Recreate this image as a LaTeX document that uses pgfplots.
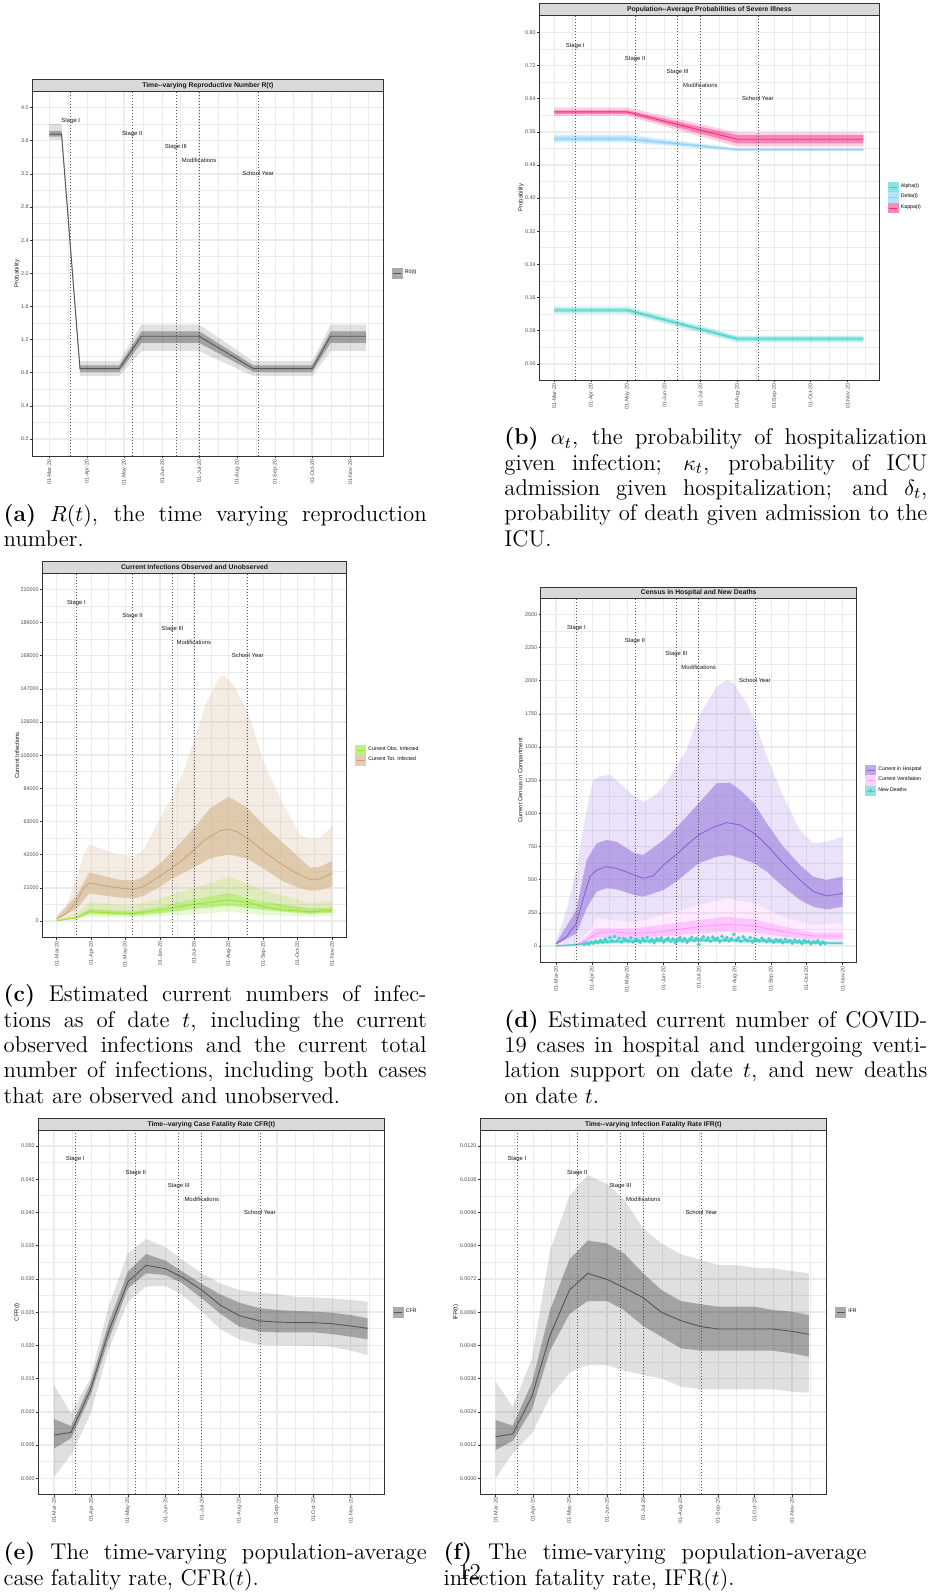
\documentclass[border=0pt]{standalone}
\usepackage{fontspec}
\usepackage{pgfplots}
\usepackage{pgfplotstable}
\usepgfplotslibrary{fillbetween}
\pgfplotsset{compat=1.18}
\newfontfamily\ggf{Liberation Sans}

\definecolor{gridc}{HTML}{EBEBEB}
\definecolor{frame}{HTML}{333333}
\definecolor{stripc}{HTML}{D9D9D9}
\definecolor{tickc}{HTML}{4D4D4D}
\definecolor{vlc}{HTML}{555555}
\definecolor{rline}{HTML}{555555}
\definecolor{alphac}{HTML}{40D0C8}
\definecolor{deltac}{HTML}{87CEFA}
\definecolor{kappac}{HTML}{F52A80}
\definecolor{obsc}{HTML}{96E33A}
\definecolor{totc}{HTML}{D2B48C}
\definecolor{totl}{HTML}{C8A47A}
\definecolor{hospc}{HTML}{9370DB}
\definecolor{hospl}{HTML}{8A63D2}
\definecolor{ventc}{HTML}{FF99FF}
\definecolor{deathc}{HTML}{48D1CC}

\newcommand\tk{\ggf\fontsize{2.7}{3}\selectfont}

\tikzset{
  vl/.style={draw=vlc, line width=0.3pt, dash pattern=on 0.6pt off 0.9pt},
  stl/.style={font=\ggf\fontsize{2.95}{3.2}\selectfont, text=black!90, inner sep=0pt},
}

\pgfplotsset{
  gg/.style={
    scale only axis,
    anchor=north west,
    axis line style={draw=frame, line width=0.4pt},
    tick align=outside,
    tick pos=left,
    major tick length=1.1pt,
    minor tick length=0pt,
    every tick/.append style={frame, line width=0.3pt},
    grid=both,
    major grid style={draw=gridc, line width=0.7pt},
    minor grid style={draw=gridc, line width=0.35pt},
    scaled y ticks=false,
    xtick={0,31,61,92,122,153,184,214,245},
    xticklabels={01-Mar-20,01-Apr-20,01-May-20,01-Jun-20,01-Jul-20,01-Aug-20,01-Sep-20,01-Oct-20,01-Nov-20},
    minor xtick={15.5,46,76.5,107,137.5,168.5,199,229.5,260},
    xticklabel style={rotate=90, anchor=east, font=\tk, text=tickc, inner sep=0.5pt},
    yticklabel style={font=\tk, text=tickc, inner sep=0.5pt},
    ylabel style={font=\ggf\fontsize{2.95}{3.3}\selectfont, text=black!90, inner sep=0pt},
    legend style={at={(1,0.5)}, anchor=west, xshift=4.3pt, draw=none, fill=none,
      inner sep=0pt, outer sep=0pt, font=\ggf\fontsize{2.6}{3}\selectfont,
      nodes={inner sep=0pt}, row sep=0pt, column sep=1.3pt},
    legend cell align=left,
  },
}

% key of a ribbon with its line
\newcommand\gkey[2]{\addlegendimage{legend image code/.code={%
  \fill[#1] (0pt,-2.4pt) rectangle (4.8pt,2.4pt);
  \draw[#2, line width=0.35pt] (0.4pt,0pt) -- (4.4pt,0pt);}}}

% dashed dates (#1 = bottom, #2 = top of panel) and their labels
\newcommand\stages[7]{%
  \addplot[vl, forget plot] coordinates {(17.5,#1)(17.5,#2)};
  \addplot[vl, forget plot] coordinates {(67.5,#1)(67.5,#2)};
  \addplot[vl, forget plot] coordinates {(103,#1)(103,#2)};
  \addplot[vl, forget plot] coordinates {(122,#1)(122,#2)};
  \addplot[vl, forget plot] coordinates {(170,#1)(170,#2)};
  \node[stl] at (axis cs:17.5,#3) {Stage I};
  \node[stl] at (axis cs:67.5,#4) {Stage II};
  \node[stl] at (axis cs:103,#5) {Stage III};
  \node[stl] at (axis cs:122,#6) {Modifications};
  \node[stl] at (axis cs:170,#7) {School Year};
}

\newcommand\strip[2]{%
  \draw[fill=stripc, draw=frame, line width=0.4pt] (#1.north west) rectangle ([yshift=5.65pt]#1.north east);
  \node[font=\ggf\bfseries\fontsize{3.4}{4}\selectfont, text=black!90, inner sep=0pt]
    at ([yshift=2.825pt]#1.north) {#2};}

\newlength\capw
\setlength\capw{211.5pt}
\newcommand\jl[1]{\makebox[\capw][s]{#1}}
\newcommand\cl[3]{\node[anchor=base west, inner sep=0pt, font=\fontsize{11.4}{12.6}\selectfont] at (#1pt,-#2pt) {#3};}

% d = day since 01-Mar-20, m = median, il/ih = inner band, ol/oh = outer band
\pgfplotstableread{
d m il ih ol oh
0 3.68 3.65 3.72 3.61 3.80
10 3.68 3.65 3.72 3.61 3.80
25 0.85 0.81 0.89 0.76 0.94
57 0.85 0.81 0.89 0.76 0.94
75 1.24 1.16 1.30 1.06 1.38
122 1.24 1.16 1.30 1.06 1.38
166 0.85 0.81 0.89 0.76 0.94
214 0.85 0.81 0.89 0.76 0.94
229 1.24 1.16 1.30 1.06 1.38
258 1.24 1.16 1.30 1.06 1.38
}\Rt

\pgfplotstableread{
d m il ih ol oh
0 0.608 0.603 0.612 0.598 0.619
61 0.608 0.603 0.612 0.598 0.619
153 0.542 0.532 0.552 0.524 0.558
258 0.542 0.532 0.552 0.524 0.558
}\Ka
\pgfplotstableread{
d m il ih ol oh
0 0.543 0.538 0.549 0.534 0.554
61 0.543 0.538 0.549 0.534 0.554
153 0.517 0.515 0.519 0.513 0.521
258 0.517 0.515 0.519 0.513 0.521
}\De
\pgfplotstableread{
d m il ih ol oh
0 0.130 0.125 0.134 0.121 0.139
61 0.130 0.125 0.134 0.121 0.139
153 0.060 0.056 0.065 0.051 0.068
258 0.060 0.056 0.065 0.051 0.068
}\Al

\pgfplotstableread{
d m il ih ol oh
0 0.00652 0.00451 0.00893 0.00025 0.01404
14 0.00692 0.00602 0.00787 0.00351 0.00978
30 0.01329 0.01239 0.01429 0.00968 0.01505
45 0.02207 0.02081 0.02332 0.01931 0.02583
61 0.02959 0.02859 0.03109 0.02658 0.03385
76 0.03205 0.03084 0.03375 0.02884 0.03601
92 0.03154 0.03059 0.03275 0.02894 0.03475
106 0.03024 0.02934 0.03109 0.02758 0.03285
122 0.02834 0.02708 0.02924 0.02508 0.03084
137 0.02608 0.02482 0.02768 0.02247 0.02934
153 0.02447 0.02282 0.02643 0.02091 0.02834
170 0.02367 0.02207 0.02558 0.02006 0.02793
184 0.02352 0.02197 0.02533 0.01996 0.02773
199 0.02342 0.02197 0.02518 0.01996 0.02733
214 0.02342 0.02197 0.02508 0.01991 0.02723
229 0.02327 0.02172 0.02493 0.01981 0.02708
245 0.02292 0.02131 0.02457 0.01921 0.02683
259 0.02257 0.02091 0.02407 0.01856 0.02658
}\CFR

\pgfplotstableread{
d m il ih ol oh
0 0.001505 0.001023 0.002106 0.0000 0.00349
14 0.001601 0.001348 0.001902 0.000903 0.002588
30 0.002973 0.002491 0.003454 0.001625 0.004333
45 0.005175 0.004634 0.006078 0.002949 0.008245
61 0.0068 0.005934 0.007908 0.003815 0.010194
76 0.0074 0.006403 0.008582 0.004092 0.010953
92 0.007186 0.006403 0.008485 0.004092 0.010628
106 0.006885 0.006078 0.008124 0.003888 0.010074
122 0.006523 0.0055 0.007402 0.003731 0.009027
137 0.005994 0.005115 0.0068 0.003611 0.008485
153 0.005693 0.004694 0.006403 0.00331 0.008088
170 0.005476 0.00461 0.006283 0.003214 0.007884
184 0.005392 0.00461 0.006199 0.003214 0.007703
199 0.005392 0.00461 0.006199 0.003214 0.007703
214 0.005392 0.00461 0.006199 0.003214 0.007607
229 0.005392 0.00461 0.006078 0.003214 0.007583
245 0.005308 0.004513 0.006018 0.003129 0.007486
259 0.0052 0.004393 0.005898 0.003093 0.007402
}\IFR

\begin{document}
\begin{tikzpicture}

% ---------------- (a) R(t)
\begin{axis}[gg, name=pa, at={(16.15pt,-45.5pt)}, width=175.5pt, height=182.5pt,
  xmin=-13.8, xmax=271.9, ymin=-0.205, ymax=4.2,
  ytick={0,0.4,0.8,1.2,1.6,2,2.4,2.8,3.2,3.6,4},
  yticklabels={0.0,0.4,0.8,1.2,1.6,2.0,2.4,2.8,3.2,3.6,4.0},
  minor ytick={0.2,0.6,1,1.4,1.8,2.2,2.6,3,3.4,3.8},
  ylabel={Probability}]
\gkey{black!33}{rline}
\addlegendentry{R0(t)}
\addplot[draw=none, forget plot, name path=aol] table[x=d,y=ol]{\Rt};
\addplot[draw=none, forget plot, name path=aoh] table[x=d,y=oh]{\Rt};
\addplot[fill=black, fill opacity=0.12, draw=none, forget plot] fill between[of=aol and aoh];
\addplot[draw=none, forget plot, name path=ail] table[x=d,y=il]{\Rt};
\addplot[draw=none, forget plot, name path=aih] table[x=d,y=ih]{\Rt};
\addplot[fill=black, fill opacity=0.27, draw=none, forget plot] fill between[of=ail and aih];
\addplot[rline, line width=0.45pt, forget plot] table[x=d,y=m]{\Rt};
\stages{-0.205}{4.2}{3.84}{3.68}{3.52}{3.36}{3.2}
\end{axis}
\strip{pa}{Time--varying Reproductive Number R(t)}

% ---------------- (b) probabilities
\begin{axis}[gg, name=pb, at={(269.65pt,-7.5pt)}, width=170pt, height=182.5pt,
  xmin=-12.5, xmax=271.4, ymin=-0.039, ymax=0.842,
  ytick={0,0.08,0.16,0.24,0.32,0.4,0.48,0.56,0.64,0.72,0.8},
  yticklabels={0.00,0.08,0.16,0.24,0.32,0.40,0.48,0.56,0.64,0.72,0.80},
  minor ytick={0.04,0.12,0.2,0.28,0.36,0.44,0.52,0.6,0.68,0.76},
  ylabel={Probability}]
\gkey{alphac!60}{alphac}
\addlegendentry{Alpha(t)}
\gkey{deltac!60}{deltac}
\addlegendentry{Delta(t)}
\gkey{kappac!55}{kappac}
\addlegendentry{Kappa(t)}
\addplot[draw=none, forget plot, name path=bal] table[x=d,y=ol]{\Al};
\addplot[draw=none, forget plot, name path=bah] table[x=d,y=oh]{\Al};
\addplot[fill=alphac, fill opacity=0.25, draw=none, forget plot] fill between[of=bal and bah];
\addplot[draw=none, forget plot, name path=bail] table[x=d,y=il]{\Al};
\addplot[draw=none, forget plot, name path=baih] table[x=d,y=ih]{\Al};
\addplot[fill=alphac, fill opacity=0.45, draw=none, forget plot] fill between[of=bail and baih];
\addplot[draw=none, forget plot, name path=bdl] table[x=d,y=ol]{\De};
\addplot[draw=none, forget plot, name path=bdh] table[x=d,y=oh]{\De};
\addplot[fill=deltac, fill opacity=0.3, draw=none, forget plot] fill between[of=bdl and bdh];
\addplot[draw=none, forget plot, name path=bdil] table[x=d,y=il]{\De};
\addplot[draw=none, forget plot, name path=bdih] table[x=d,y=ih]{\De};
\addplot[fill=deltac, fill opacity=0.45, draw=none, forget plot] fill between[of=bdil and bdih];
\addplot[draw=none, forget plot, name path=bkl] table[x=d,y=ol]{\Ka};
\addplot[draw=none, forget plot, name path=bkh] table[x=d,y=oh]{\Ka};
\addplot[fill=kappac, fill opacity=0.22, draw=none, forget plot] fill between[of=bkl and bkh];
\addplot[draw=none, forget plot, name path=bkil] table[x=d,y=il]{\Ka};
\addplot[draw=none, forget plot, name path=bkih] table[x=d,y=ih]{\Ka};
\addplot[fill=kappac, fill opacity=0.45, draw=none, forget plot] fill between[of=bkil and bkih];
\addplot[alphac, line width=0.45pt, forget plot] table[x=d,y=m]{\Al};
\addplot[deltac, line width=0.45pt, forget plot] table[x=d,y=m]{\De};
\addplot[kappac, line width=0.45pt, forget plot] table[x=d,y=m]{\Ka};
\stages{-0.039}{0.842}{0.768}{0.736}{0.704}{0.672}{0.64}
\end{axis}
\strip{pb}{Population--Average Probabilities of Severe Illness}

% ---------------- (c) infections
\begin{axis}[gg, name=pc, at={(21.15pt,-286.5pt)}, width=152.2pt, height=182.35pt,
  xmin=-12.8, xmax=258, ymin=-10573, ymax=220320,
  ytick={0,21000,42000,63000,84000,105000,126000,147000,168000,189000,210000},
  yticklabels={0,21000,42000,63000,84000,105000,126000,147000,168000,189000,210000},
  minor ytick={10500,31500,52500,73500,94500,115500,136500,157500,178500,199500},
  ylabel={Current Infections}]
\gkey{obsc!60}{obsc}
\addlegendentry{Current Obs. Infected}
\gkey{totc!65}{totl}
\addlegendentry{Current Tot. Infected}
\addplot[draw=none, forget plot, name path=ctl] coordinates {(0,211)(17.8,3377)(29.1,5910)(38.6,5910)(53.4,5277)(68.2,4854)(77.1,5910)(92,9076)(102.9,10131)(121.9,14352)(153.1,16463)(170,15407)(183.9,12241)(201.7,8020)(216.6,5910)(225.5,4854)(245,5910)};
\addplot[draw=none, forget plot, name path=ctu] coordinates {(0,3799)(8.9,10131)(17.8,27016)(23.7,41790)(29.1,48544)(38.6,46011)(53.4,42212)(68.2,40735)(77.1,44956)(92,65006)(102.9,79781)(112.7,94555)(121.9,113550)(133.5,138877)(145.4,154707)(149.8,155129)(157.2,149430)(170,132546)(183.9,100887)(201.7,73449)(216.6,54453)(225.5,51921)(234.3,52765)(245,59730)};
\addplot[fill=totc, fill opacity=0.25, draw=none, forget plot] fill between[of=ctl and ctu];
\addplot[draw=none, forget plot, name path=cil] coordinates {(0,633)(17.8,8020)(29.1,17518)(38.6,16463)(53.4,14985)(68.2,14352)(77.1,15830)(92,21739)(102.9,27016)(121.9,33770)(136.5,39679)(153.1,42212)(170,39257)(183.9,33347)(201.7,24905)(216.6,20684)(225.5,19206)(234.3,19628)(245,21950)};
\addplot[draw=none, forget plot, name path=ciu] coordinates {(0,2111)(17.8,16463)(29.1,30815)(38.6,29126)(53.4,26383)(68.2,25538)(77.1,28071)(92,36513)(102.9,43900)(121.9,58675)(136.5,71338)(153.1,78725)(170,71338)(183.9,60785)(201.7,49177)(216.6,39679)(225.5,33770)(234.3,34403)(245,37991)};
\addplot[fill=totc, fill opacity=0.6, draw=none, forget plot] fill between[of=cil and ciu];
\addplot[draw=none, forget plot, name path=gol] coordinates {(0,0)(29.1,2744)(68.2,2111)(121.9,4221)(153.1,5910)(183.9,3799)(225.5,2744)(245,3377)};
\addplot[draw=none, forget plot, name path=gou] coordinates {(0,633)(17.8,4854)(29.1,11819)(68.2,9709)(92,14352)(121.9,20684)(153.1,28071)(183.9,19628)(225.5,11186)(245,12664)};
\addplot[fill=obsc, fill opacity=0.22, draw=none, forget plot] fill between[of=gol and gou];
\addplot[draw=none, forget plot, name path=gil] coordinates {(0,0)(17.8,1477)(29.1,4432)(68.2,3377)(92,4854)(121.9,7598)(153.1,9709)(183.9,6965)(225.5,4432)(245,5277)};
\addplot[draw=none, forget plot, name path=giu] coordinates {(0,422)(17.8,2955)(29.1,7598)(68.2,5910)(92,9076)(121.9,13930)(153.1,17518)(183.9,12241)(225.5,8020)(245,8442)};
\addplot[fill=obsc, fill opacity=0.5, draw=none, forget plot] fill between[of=gil and giu];
\addplot[totl, line width=0.45pt, forget plot] coordinates {(0,1266)(8.9,4854)(17.8,12241)(23.7,20684)(29.1,24061)(38.6,22794)(53.4,21106)(68.2,20051)(77.1,21739)(92,28493)(102.9,33770)(112.7,39046)(121.9,44956)(133.5,52343)(145.4,57197)(153.1,58042)(160.2,56564)(170,52343)(183.9,44323)(198.8,36513)(213.6,30182)(225.5,26383)(234.3,26594)(245,30182)};
\addplot[obsc, line width=0.45pt, forget plot] coordinates {(0,211)(17.8,2111)(29.1,5910)(38.6,5488)(53.4,5065)(68.2,4643)(92,6965)(121.9,10553)(153.1,13297)(170,11819)(183.9,9076)(201.7,6965)(225.5,5910)(245,6754)};
\stages{-10573}{220320}{201600}{193200}{184800}{176400}{168000}
\end{axis}
\strip{pc}{Current Infections Observed and Unobserved}

% ---------------- (d) hospital census and deaths
\begin{axis}[gg, name=pd, at={(270.35pt,-299.15pt)}, width=158pt, height=182.2pt,
  xmin=-13, xmax=257, ymin=-126, ymax=2620.6,
  ytick={0,250,500,750,1000,1250,1500,1750,2000,2250,2500},
  yticklabels={0,250,500,750,1000,1250,1500,1750,2000,2250,2500},
  minor ytick={125,375,625,875,1125,1375,1625,1875,2125,2375},
  ylabel={Current Census in Compartment}]
\gkey{hospc!60}{hospl}
\addlegendentry{Current in Hospital}
\gkey{ventc!45}{ventc}
\addlegendentry{Current Ventilation}
\addlegendimage{legend image code/.code={%
  \fill[deathc!60] (0pt,-2.4pt) rectangle (4.8pt,2.4pt);
  \draw[deathc, line width=0.35pt] (0.4pt,0pt) -- (4.4pt,0pt);
  \fill[deathc] (2.4pt,0pt) circle (0.75pt);}}
\addlegendentry{New Deaths}
\addplot[draw=none, forget plot, name path=pol] coordinates {(0,3)(17.4,25)(26.2,95)(34.8,209)(67.2,176)(121.9,309)(145.9,359)(169.5,322)(194.3,221)(219.9,158)(245,176)};
\addplot[draw=none, forget plot, name path=pou] coordinates {(0,33)(9.1,271)(17.4,573)(26.2,1025)(31.9,1251)(37.6,1281)(46.2,1289)(54.7,1226)(67.2,1126)(74.6,1088)(83.2,1126)(92,1201)(102.6,1352)(111.7,1477)(121.9,1729)(128.8,1829)(137.3,1955)(145.9,2005)(151.6,1980)(163,1829)(169.5,1704)(180.1,1427)(194.3,1126)(208.5,874)(219.9,774)(231.3,786)(245,824)};
\addplot[fill=hospc, fill opacity=0.2, draw=none, forget plot] fill between[of=pol and pou];
\addplot[draw=none, forget plot, name path=pil] coordinates {(0,10)(17.4,95)(26.2,284)(34.8,410)(43.3,435)(51.9,427)(67.2,384)(74.6,372)(92,422)(102.6,485)(121.9,623)(137.3,673)(148.7,686)(157.3,661)(169.5,623)(180.1,560)(194.3,447)(208.5,347)(219.9,296)(231.3,276)(245,296)};
\addplot[draw=none, forget plot, name path=piu] coordinates {(0,20)(17.4,271)(26.2,648)(34.8,774)(43.3,799)(51.9,786)(67.2,699)(74.6,686)(92,799)(102.6,887)(121.9,1075)(137.3,1226)(148.7,1231)(157.3,1176)(169.5,1075)(180.1,925)(194.3,749)(208.5,611)(219.9,523)(231.3,497)(245,523)};
\addplot[fill=hospc, fill opacity=0.55, draw=none, forget plot] fill between[of=pil and piu];
\addplot[draw=none, forget plot, name path=vol] coordinates {(0,0)(17.4,0)(34.8,33)(67.2,33)(121.9,50)(145.9,58)(169.5,50)(194.3,38)(219.9,25)(245,25)};
\addplot[draw=none, forget plot, name path=vou] coordinates {(0,3)(17.4,25)(26.2,95)(34.8,209)(67.2,176)(121.9,309)(145.9,359)(169.5,322)(194.3,221)(219.9,158)(245,176)};
\addplot[fill=ventc, fill opacity=0.2, draw=none, forget plot] fill between[of=vol and vou];
\addplot[draw=none, forget plot, name path=vil] coordinates {(0,0)(17.4,3)(34.8,63)(67.2,58)(121.9,95)(145.9,108)(169.5,101)(194.3,70)(219.9,50)(245,50)};
\addplot[draw=none, forget plot, name path=viu] coordinates {(0,0)(17.4,10)(34.8,133)(67.2,133)(121.9,196)(145.9,221)(169.5,201)(194.3,146)(219.9,101)(245,101)};
\addplot[fill=ventc, fill opacity=0.45, draw=none, forget plot] fill between[of=vil and viu];
\addplot[draw=none, forget plot, name path=dol] coordinates {(0,0)(17,0)(30,10)(60,20)(90,25)(120,27)(150,27)(170,23)(200,15)(230,8)(245,6)};
\addplot[draw=none, forget plot, name path=dou] coordinates {(0,4)(17,22)(30,40)(60,50)(90,55)(120,57)(150,57)(170,53)(200,45)(230,37)(245,35)};
\addplot[fill=deathc, fill opacity=0.25, draw=none, forget plot] fill between[of=dol and dou];
\addplot[draw=none, forget plot, name path=dil] coordinates {(0,0)(17,4)(30,17)(60,27)(90,32)(120,34)(150,34)(170,31)(200,23)(230,15)(245,13)};
\addplot[draw=none, forget plot, name path=diu] coordinates {(0,2)(17,16)(30,33)(60,43)(90,48)(120,50)(150,50)(170,45)(200,37)(230,29)(245,27)};
\addplot[fill=deathc, fill opacity=0.5, draw=none, forget plot] fill between[of=dil and diu];
\addplot[hospl, line width=0.45pt, forget plot] coordinates {(0,15)(9.1,70)(17.4,171)(23.4,359)(29.1,523)(34.8,573)(43.3,598)(51.9,585)(67.2,535)(74.6,510)(83.2,528)(92,611)(102.6,686)(111.7,761)(121.9,837)(134.5,894)(145.9,930)(157.3,912)(169.5,849)(180.1,761)(194.3,623)(208.5,498)(219.9,410)(231.3,377)(245,397)};
\addplot[ventc, line width=0.45pt, forget plot] coordinates {(0,0)(17.4,5)(26.2,45)(34.8,95)(46.2,108)(67.2,95)(92,108)(121.9,146)(145.9,163)(169.5,151)(194.3,108)(219.9,75)(245,75)};
\addplot[deathc, line width=0.6pt, forget plot] coordinates {(0,0)(17,10)(30,25)(60,35)(90,40)(120,42)(150,42)(170,38)(200,30)(230,22)(245,20)};
\addplot[deathc, only marks, mark=*, mark size=0.75pt, mark options={draw=none, fill=deathc}, forget plot] coordinates {
(24,12)(26,20)(28,15)(30,28)(32,22)(34,35)(36,26)(38,42)(40,30)(42,50)(44,33)(46,62)(48,40)(50,70)(52,38)(54,58)
(56,32)(58,55)(60,44)(62,36)(64,60)(66,30)(68,52)(70,45)(72,28)(74,56)(76,38)(78,63)(80,34)(82,50)(84,26)(86,55)
(88,42)(90,60)(92,31)(94,47)(96,58)(98,36)(100,52)(102,25)(104,44)(106,62)(108,38)(110,55)(112,30)(114,48)(116,65)
(118,40)(120,57)(122,12)(124,50)(126,70)(128,42)(130,60)(132,36)(134,66)(136,48)(138,58)(140,33)(142,72)(144,45)
(146,62)(148,38)(150,55)(152,88)(154,44)(156,60)(158,35)(160,68)(162,50)(164,40)(166,63)(168,30)(170,55)(172,46)
(174,38)(176,58)(178,42)(180,33)(182,52)(184,40)(186,28)(188,48)(190,36)(192,44)(194,25)(196,50)(198,34)(200,40)
(202,22)(204,45)(206,30)(208,38)(210,20)(212,42)(214,28)(216,35)(218,18)(220,32)(222,25)(224,38)(226,15)(228,28)(230,20)};
\stages{-126}{2620.6}{2400}{2300}{2200}{2100}{2000}
\end{axis}
\strip{pd}{Census in Hospital and New Deaths}

% ---------------- (e) CFR
\begin{axis}[gg, name=pe, at={(19.15pt,-565pt)}, width=173pt, height=182.15pt,
  xmin=-13, xmax=272.7, ymin=-0.0024, ymax=0.0524,
  ytick={0,0.005,0.01,0.015,0.02,0.025,0.03,0.035,0.04,0.045,0.05},
  yticklabels={0.000,0.005,0.010,0.015,0.020,0.025,0.030,0.035,0.040,0.045,0.050},
  minor ytick={0.0025,0.0075,0.0125,0.0175,0.0225,0.0275,0.0325,0.0375,0.0425,0.0475},
  ylabel={CFR(t)}]
\gkey{black!33}{rline}
\addlegendentry{CFR}
\addplot[draw=none, forget plot, name path=eol] table[x=d,y=ol]{\CFR};
\addplot[draw=none, forget plot, name path=eoh] table[x=d,y=oh]{\CFR};
\addplot[fill=black, fill opacity=0.12, draw=none, forget plot] fill between[of=eol and eoh];
\addplot[draw=none, forget plot, name path=eil] table[x=d,y=il]{\CFR};
\addplot[draw=none, forget plot, name path=eih] table[x=d,y=ih]{\CFR};
\addplot[fill=black, fill opacity=0.27, draw=none, forget plot] fill between[of=eil and eih];
\addplot[rline, line width=0.45pt, forget plot] table[x=d,y=m]{\CFR};
\stages{-0.0024}{0.0524}{0.048}{0.046}{0.044}{0.042}{0.04}
\end{axis}
\strip{pe}{Time--varying Case Fatality Rate CFR(t)}

% ---------------- (f) IFR
\begin{axis}[gg, name=pf, at={(240pt,-565pt)}, width=173.35pt, height=182.15pt,
  xmin=-13, xmax=273.7, ymin=-0.000578, ymax=0.012578,
  ytick={0,0.0012,0.0024,0.0036,0.0048,0.006,0.0072,0.0084,0.0096,0.0108,0.012},
  yticklabels={0.0000,0.0012,0.0024,0.0036,0.0048,0.0060,0.0072,0.0084,0.0096,0.0108,0.0120},
  minor ytick={0.0006,0.0018,0.003,0.0042,0.0054,0.0066,0.0078,0.009,0.0102,0.0114},
  ylabel={IFR(t)}]
\gkey{black!33}{rline}
\addlegendentry{IFR}
\addplot[draw=none, forget plot, name path=fol] table[x=d,y=ol]{\IFR};
\addplot[draw=none, forget plot, name path=foh] table[x=d,y=oh]{\IFR};
\addplot[fill=black, fill opacity=0.12, draw=none, forget plot] fill between[of=fol and foh];
\addplot[draw=none, forget plot, name path=fil] table[x=d,y=il]{\IFR};
\addplot[draw=none, forget plot, name path=fih] table[x=d,y=ih]{\IFR};
\addplot[fill=black, fill opacity=0.27, draw=none, forget plot] fill between[of=fil and fih];
\addplot[rline, line width=0.45pt, forget plot] table[x=d,y=m]{\IFR};
\stages{-0.000578}{0.012578}{0.01152}{0.01104}{0.01056}{0.01008}{0.0096}
\end{axis}
\strip{pf}{Time--varying Infection Fatality Rate IFR(t)}

% ---------------- captions
\cl{1.65}{260.55}{\jl{\textbf{(a)} $R(t)$, the time varying reproduction}}
\cl{1.65}{273.2}{number.}

\cl{252}{222.4}{\jl{\textbf{(b)} $\alpha_t$, the probability of hospitalization}}
\cl{252}{235.05}{\jl{given infection; $\kappa_t$, probability of ICU}}
\cl{252}{247.7}{\jl{admission given hospitalization; and $\delta_t$,}}
\cl{252}{260.35}{\jl{probability of death given admission to the}}
\cl{252}{273.0}{ICU.}

\cl{1.65}{500.9}{\jl{\textbf{(c)} Estimated current numbers of infec-}}
\cl{1.65}{513.55}{\jl{tions as of date $t$, including the current}}
\cl{1.65}{526.2}{\jl{observed infections and the current total}}
\cl{1.65}{538.85}{\jl{number of infections, including both cases}}
\cl{1.65}{551.5}{that are observed and unobserved.}

\cl{252}{513.6}{\jl{\textbf{(d)} Estimated current number of COVID-}}
\cl{252}{526.25}{\jl{19 cases in hospital and undergoing venti-}}
\cl{252}{538.9}{\jl{lation support on date $t$, and new deaths}}
\cl{252}{551.55}{on date $t$.}

\cl{1.65}{779.95}{\jl{\textbf{(e)} The time-varying population-average}}
\cl{1.65}{792.6}{case fatality rate, CFR$(t)$.}

\cl{221.6}{779.95}{\jl{\textbf{(f)} The time-varying population-average}}
\cl{221.6}{792.6}{infection fatality rate, IFR$(t)$.}

\node[anchor=base, inner sep=0pt, font=\fontsize{11.4}{12.6}\selectfont] at (234.8pt,-789.6pt) {12};

\pgfresetboundingbox
\path[use as bounding box] (0pt,0pt) rectangle (463.5pt,-797pt);
\end{tikzpicture}
\end{document}
